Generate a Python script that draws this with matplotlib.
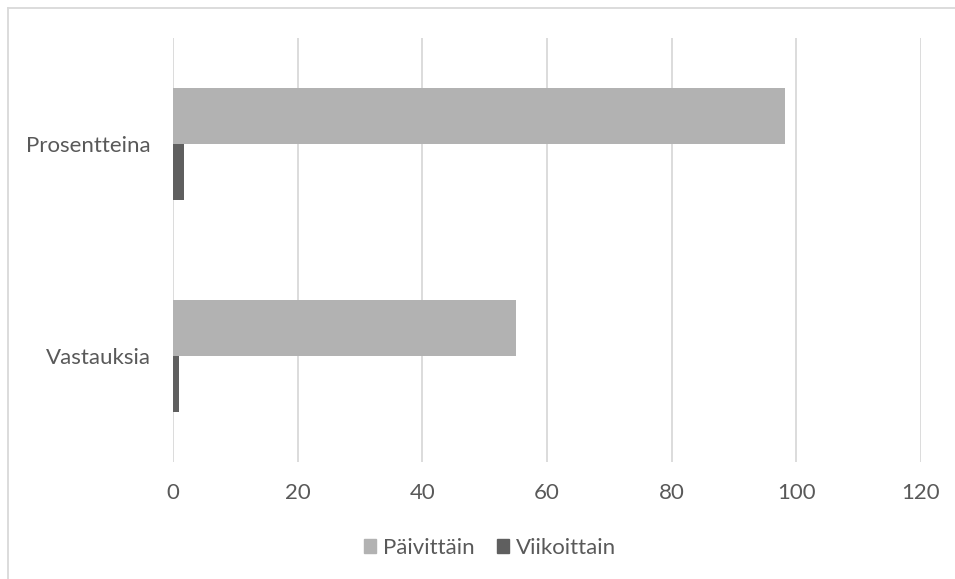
import numpy as np
import matplotlib.pyplot as plt
from matplotlib.lines import Line2D
from matplotlib.patches import Patch

# categories top to bottom, values per series
categories = ["Prosentteina", "Vastauksia"]
paivittain = [98.2, 55]
viikoittain = [1.8, 1]
series_names = ["Päivittäin", "Viikoittain"]

plt.rcParams["font.family"] = ["Lato", "DejaVu Sans"]

fig = plt.figure(figsize=(9.55, 5.79), dpi=100)
ax = fig.add_axes([0.1812, 0.2021, 0.9644 - 0.1812, 0.9344 - 0.2021])

c_light = "#b2b2b2"
c_dark = "#5f5f5f"
text_c = "#595959"
grid_c = "#d9d9d9"
fs = 16

y = np.arange(len(categories))
h = 0.264
ax.barh(y - h / 2, paivittain, height=h, color=c_light, label=series_names[0])
ax.barh(y + h / 2, viikoittain, height=h, color=c_dark, label=series_names[1])

ax.set_xlim(0, 120)
ax.set_ylim(1.5, -0.5)
ax.set_xticks(np.arange(0, 121, 20))
ax.set_yticks(y)
ax.set_yticklabels(categories)

ax.grid(axis="x", color=grid_c, linewidth=1.3)
ax.set_axisbelow(True)
for s in ax.spines.values():
    s.set_visible(False)
ax.tick_params(axis="both", length=0, labelsize=fs, colors=text_c)
ax.tick_params(axis="x", pad=15)
ax.tick_params(axis="y", pad=16)

handles = [Patch(color=c_light), Patch(color=c_dark)]
fig.legend(handles, series_names, loc="center", bbox_to_anchor=(0.513, 0.054),
           ncol=2, frameon=False, fontsize=fs, labelcolor=text_c,
           handlelength=0.55, handleheight=0.55, handletextpad=0.3, columnspacing=1.0)

# outer chart frame (top and left edges)
fig.add_artist(Line2D([8 / 955, 8 / 955], [0, 1 - 8 / 579], transform=fig.transFigure,
                      color=grid_c, linewidth=1.3))
fig.add_artist(Line2D([8 / 955, 1], [1 - 8 / 579, 1 - 8 / 579], transform=fig.transFigure,
                      color=grid_c, linewidth=1.3))

fig.savefig("out.png", dpi=100)
